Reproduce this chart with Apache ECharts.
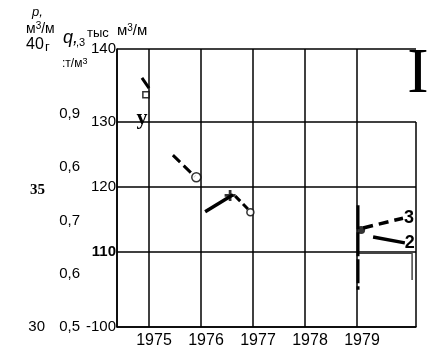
<!DOCTYPE html>
<html>
<head>
<meta charset="utf-8">
<script src="https://cdn.jsdelivr.net/npm/echarts@6/dist/echarts.min.js"></script>
<style>html,body{margin:0;padding:0;background:#fff}#c{width:430px;height:350px}</style>
</head>
<body>
<div id="c"></div>
<script>
// ---- data ----
const years = [1975, 1976, 1977, 1978, 1979];
const qMinLabel = '-100';
const qMaxLabel = '140';
const qTicks = [110, 120, 130];
const pLabels = ['0,5', '0,6', '0,7', '0,6', '0,9'];
const leftLabels = ['30', '35', '40'];
const seriesTop = [[1974.865, 136.8], [1975.0, 135.2]];
const squarePt = [[1974.94, 134.2]];
const seriesB = [[1975.46, 124.9], [1975.885, 121.6]];
const circleB = [[1975.91, 121.5]];
const seriesCsolid = [[1976.08, 116.2], [1976.615, 118.8]];
const crossC = [[1976.56, 118.7]];
const seriesCdash = [[1976.66, 118.6], [1976.93, 116.4]];
const circleC = [[1976.95, 116.1]];
const vert1979 = [[1979.02, 117.2], [1979.02, 104.2]];
const dot3 = [[1979.08, 113.4]];
const series3 = [[1979.12, 113.7], [1979.885, 115.2]];
const series2 = [[1979.31, 112.3], [1979.92, 111.4]];
const boxLine = [[1979.0, 109.8], [1980.06, 109.8], [1980.06, 105.7]];

const X_MIN = 1974.385, X_MAX = 1980.135;
const Y_MIN = 98.46, Y_MAX = 141.23;
const borderRight = [[X_MAX, Y_MIN], [X_MAX, 130]];

const SANS = 'Liberation Sans, Arial, sans-serif';
const SERIF = 'Liberation Serif, Times New Roman, serif';
const near = (a, b) => Math.abs(a - b) < 1e-6;

const chart = echarts.init(document.getElementById('c'), null, {renderer: 'canvas'});
const option = {
  animation: false,
  backgroundColor: '#fff',
  grid: {left: 117, right: 14, top: 49, bottom: 23, containLabel: false},
  xAxis: {
    type: 'value', min: X_MIN, max: X_MAX,
    axisLine: {show: true, lineStyle: {color: '#000', width: 1.5}},
    axisTick: {show: false},
    splitLine: {show: true, lineStyle: {width: 1.5,
      color: ['#000', '#000', '#000', '#000', '#000', '#000', 'rgba(0,0,0,0)', 'rgba(0,0,0,0)']}},
    axisLabel: {
      color: '#000', fontSize: 16, fontFamily: SANS, margin: 6, padding: [0, 0, 0, 10],
      showMinLabel: true, showMaxLabel: true,
      formatter: v => years.some(y => near(y, v)) ? String(Math.round(v)) : ''
    }
  },
  yAxis: [
    {
      type: 'value', min: Y_MIN, max: Y_MAX, position: 'left',
      axisLine: {show: true, lineStyle: {color: '#000', width: 1.5}},
      axisTick: {show: false},
      splitLine: {show: true, lineStyle: {width: 1.5,
        color: ['#000', 'rgba(0,0,0,0)', '#000', '#000', '#000', 'rgba(0,0,0,0)', '#000']}},
      axisLabel: {
        color: '#000', fontSize: 15, fontFamily: SANS, margin: 1,
        showMinLabel: true, showMaxLabel: true,
        formatter: v => {
          if (near(v, Y_MIN)) return qMinLabel;
          if (near(v, Y_MAX)) return qMaxLabel;
          if (qTicks.some(t => near(t, v))) return near(v, 110) ? '{b|' + v + '}' : String(v);
          return '';
        },
        rich: {b: {fontWeight: 'bold', fontSize: 15, fontFamily: SANS, color: '#000'}}
      }
    },
    {
      type: 'value', min: 0, max: 5.22, interval: 1, position: 'left', offset: 36,
      axisLine: {show: false}, axisTick: {show: false}, splitLine: {show: false},
      axisLabel: {
        color: '#000', fontSize: 15, fontFamily: SANS, margin: 1,
        showMinLabel: true, showMaxLabel: false,
        formatter: v => (Number.isInteger(v) && v < pLabels.length) ? pLabels[v] : ''
      }
    },
    {
      type: 'value', min: 30, max: 40.15, interval: 5, position: 'left', offset: 71,
      axisLine: {show: false}, axisTick: {show: false}, splitLine: {show: false},
      axisLabel: {
        color: '#000', fontSize: 15, fontFamily: SANS, margin: 1,
        showMinLabel: true, showMaxLabel: false,
        formatter: v => near(v, 30) ? leftLabels[0] : (near(v, 35) ? '{s|' + leftLabels[1] + '}' : ''),
        rich: {s: {fontFamily: SERIF, fontWeight: 'bold', fontSize: 15, color: '#000'}}
      }
    }
  ],
  series: [
    {type: 'line', data: seriesTop, symbol: 'none', lineStyle: {color: '#000', width: 3}, z: 3},
    {type: 'scatter', data: squarePt, symbol: 'rect', symbolSize: 6,
      itemStyle: {color: '#fff', borderColor: '#000', borderWidth: 1.5}, z: 5},
    {type: 'line', data: seriesB, symbol: 'none', lineStyle: {color: '#000', width: 3, type: [10, 5]}, z: 3},
    {type: 'scatter', data: circleB, symbol: 'circle', symbolSize: 9,
      itemStyle: {color: '#fff', borderColor: '#000', borderWidth: 1.5}, z: 5},
    {type: 'line', data: seriesCsolid, symbol: 'none', lineStyle: {color: '#000', width: 3.5}, z: 3},
    {type: 'scatter', data: crossC, symbol: 'path://M3,0h2v3h3v2h-3v3h-2v-3h-3v-2h3z', symbolSize: 11,
      itemStyle: {color: '#000'}, z: 5},
    {type: 'line', data: seriesCdash, symbol: 'none', lineStyle: {color: '#000', width: 3, type: [7, 4]}, z: 3},
    {type: 'scatter', data: circleC, symbol: 'circle', symbolSize: 7,
      itemStyle: {color: '#fff', borderColor: '#000', borderWidth: 1.5}, z: 5},
    {type: 'line', data: vert1979, symbol: 'none', lineStyle: {color: '#000', width: 3, type: [24, 3]}, z: 3},
    {type: 'scatter', data: dot3, symbol: 'circle', symbolSize: 8, itemStyle: {color: '#000'}, z: 5},
    {type: 'line', data: series3, symbol: 'none', lineStyle: {color: '#000', width: 3.5, type: [10, 6]}, z: 3,
      endLabel: {show: true, formatter: '3', distance: 1, color: '#000', fontSize: 18, fontWeight: 'bold', fontFamily: SANS}},
    {type: 'line', data: series2, symbol: 'none', lineStyle: {color: '#000', width: 3.5}, z: 3,
      endLabel: {show: true, formatter: '2', distance: 0, color: '#000', fontSize: 18, fontWeight: 'bold', fontFamily: SANS}},
    {type: 'line', data: boxLine, symbol: 'none', lineStyle: {color: '#444', width: 1.5}, z: 2},
    {type: 'line', data: borderRight, symbol: 'none', lineStyle: {color: '#000', width: 1.5}, z: 2},
    {type: 'line', yAxisIndex: 1, data: []},
    {type: 'line', yAxisIndex: 2, data: []}
  ],
  graphic: [
    {type: 'text', x: 32, y: 12, style: {text: 'p,', fontSize: 13, fontStyle: 'italic', fontFamily: SANS, fill: '#000', verticalAlign: 'middle'}},
    {type: 'text', x: 26, y: 29, style: {text: 'м{sup|3}/м', fontSize: 14, fontFamily: SANS, fill: '#000', verticalAlign: 'middle',
      rich: {sup: {fontSize: 10, verticalAlign: 'top', padding: [0, 0, 6, 0], fontFamily: SANS, fill: '#000'}}}},
    {type: 'text', x: 26, y: 45, style: {text: leftLabels[2], fontSize: 16, fontFamily: SANS, fill: '#000', verticalAlign: 'middle'}},
    {type: 'text', x: 45, y: 47, style: {text: 'г', fontSize: 13, fontFamily: SANS, fill: '#000', verticalAlign: 'middle'}},
    {type: 'text', x: 63, y: 38, style: {text: 'q,', fontSize: 18, fontStyle: 'italic', fontFamily: SANS, fill: '#000', verticalAlign: 'middle'}},
    {type: 'text', x: 76, y: 43, style: {text: ',3', fontSize: 11, fontFamily: SANS, fill: '#000', verticalAlign: 'middle'}},
    {type: 'text', x: 62, y: 64, style: {text: ':т/м{sup|3}', fontSize: 12, fontFamily: SANS, fill: '#000', verticalAlign: 'middle',
      rich: {sup: {fontSize: 9, verticalAlign: 'top', padding: [0, 0, 5, 0], fontFamily: SANS, fill: '#000'}}}},
    {type: 'text', x: 87, y: 33, style: {text: 'тыс', fontSize: 13, fontFamily: SANS, fill: '#000', verticalAlign: 'middle'}},
    {type: 'text', x: 117, y: 31, style: {text: 'м{sup|3}/м', fontSize: 15, fontFamily: SANS, fill: '#000', verticalAlign: 'middle',
      rich: {sup: {fontSize: 10, verticalAlign: 'top', padding: [0, 0, 6, 0], fontFamily: SANS, fill: '#000'}}}},
    {type: 'text', x: 142, y: 118, style: {text: 'y', fontSize: 22, fontWeight: 'bold', fontFamily: SERIF, fill: '#000', align: 'center', verticalAlign: 'middle'}},
    {type: 'text', x: 418, y: 75, z: 10, style: {text: 'I', fontSize: 64, fontFamily: SERIF, fill: '#000', align: 'center', verticalAlign: 'middle'}}
  ]
};
chart.setOption(option);
</script>
</body>
</html>
